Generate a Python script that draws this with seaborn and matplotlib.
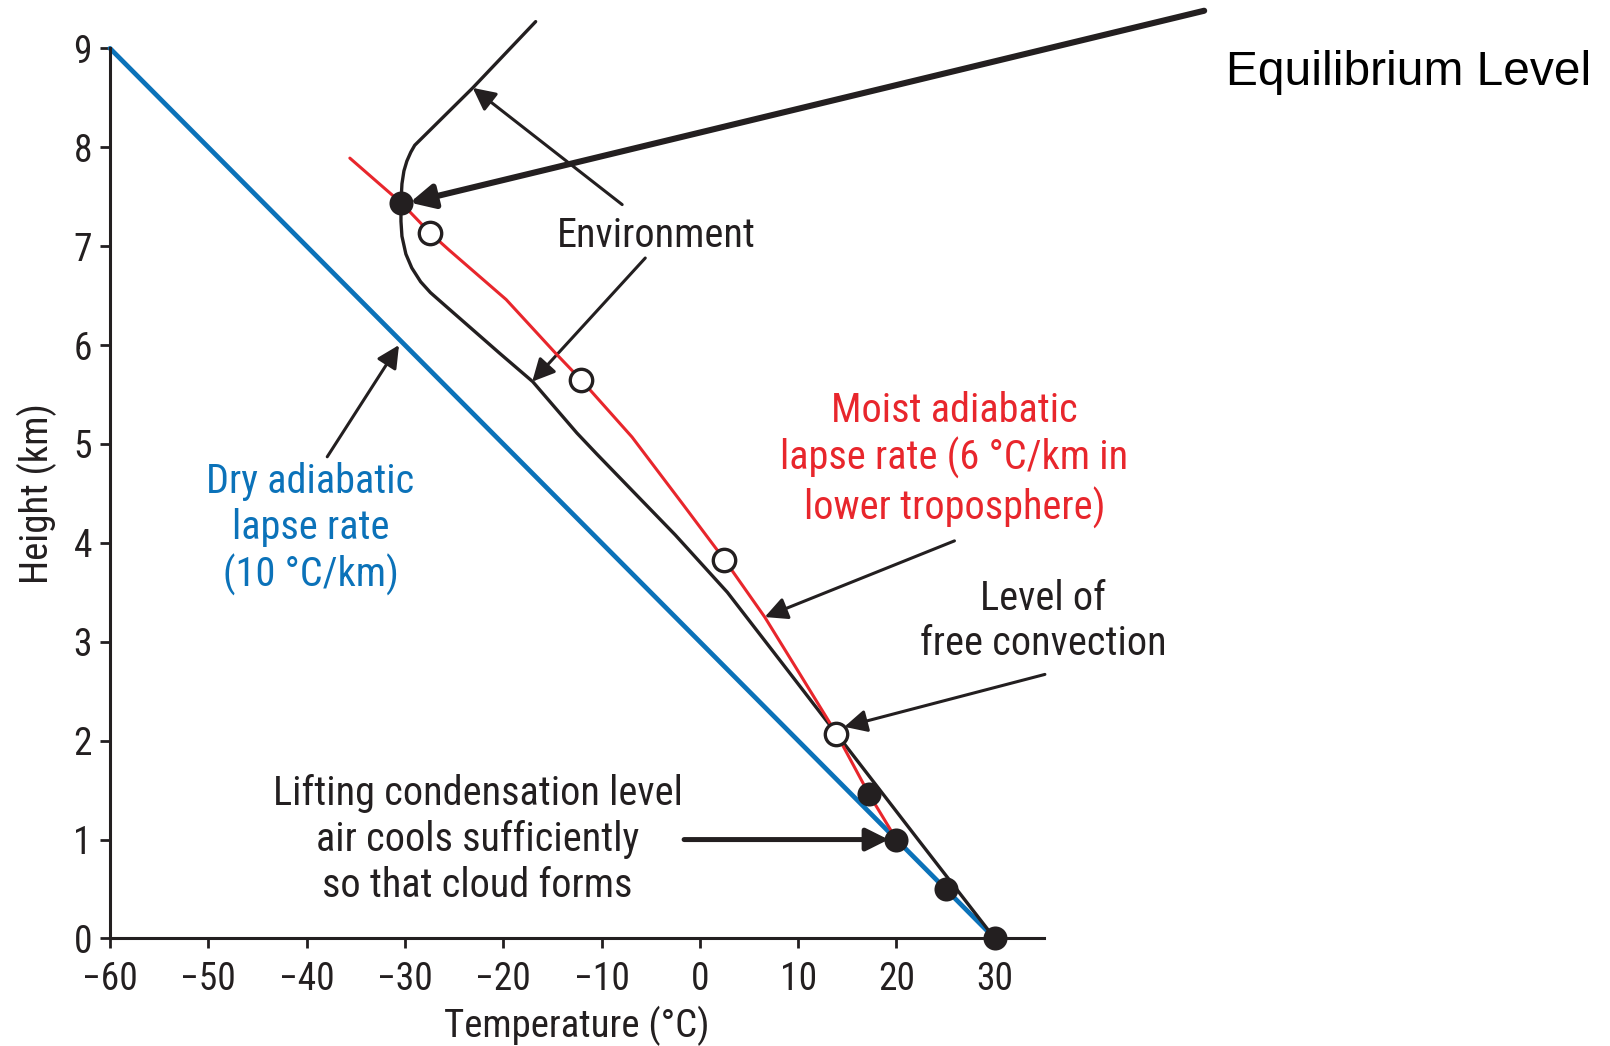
import matplotlib
matplotlib.use("Agg")
import matplotlib.pyplot as plt
from matplotlib import font_manager as fm
import pandas as pd
import seaborn as sns

# Dry adiabat (10 °C/km)
dry_temp = [-60, 30]
dry_height = [9, 0]

# Parcel path: dry to the LCL, then moist adiabat
moist_temp = [20.0, 17.2, 13.9, 10.2, 6.6, 2.5, -1.8, -6.9, -12.1, -14.7, -19.7, -25.5, -27.4, -30.4, -32.6, -35.6]
moist_height = [1.0, 1.46, 2.07, 2.67, 3.25, 3.83, 4.40, 5.07, 5.65, 5.92, 6.46, 6.96, 7.13, 7.44, 7.63, 7.89]

# Environmental temperature profile
env_temp = [30.0, 22.2, 13.9, 8.4, 2.8, -2.5, -6.6, -10.5, -12.5, -17.0, -20.4, -23.5, -25.8,
            -27.4, -28.4, -29.3, -29.9, -30.3, -30.4, -30.4, -30.3, -30.1, -29.8, -29.4, -29.0, -23.1, -16.7]
env_height = [0.0, 1.0, 2.07, 2.78, 3.50, 4.08, 4.50, 4.90, 5.11, 5.63, 5.92, 6.19, 6.39,
              6.53, 6.64, 6.78, 6.92, 7.10, 7.25, 7.44, 7.63, 7.76, 7.86, 7.95, 8.02, 8.6, 9.27]

# Marked parcel positions
filled_temp = [30, 25, 20, 17.2, -30.4]
filled_height = [0, 0.5, 1.0, 1.46, 7.44]
open_temp = [13.9, 2.5, -12.1, -27.4]
open_height = [2.07, 3.83, 5.65, 7.13]

x_ticks = [-60, -50, -40, -30, -20, -10, 0, 10, 20, 30]
y_ticks = list(range(0, 10))

BLUE = "#0b72b9"
RED = "#e8262c"
INK = "#231f20"


def condensed_font():
    entries = fm.fontManager.ttflist
    names = {f.name for f in entries}
    for name in ("Liberation Sans Narrow", "Roboto Condensed", "Open Sans Condensed",
                 "Noto Sans Condensed", "Arial Narrow"):
        if name in names:
            return name, "normal"
    for f in entries:
        if f.name == "DejaVu Sans" and f.stretch in ("condensed", "semi-condensed"):
            return "DejaVu Sans", "condensed"
    for f in entries:
        if "Condensed" in f.name or "Narrow" in f.name:
            return f.name, "normal"
    return None, "normal"


cond_family, cond_stretch = condensed_font()

sns.set_theme(style="ticks")
if cond_family is None:
    plt.rcParams["font.family"] = ["Roboto", "DejaVu Sans"]
    scale = 0.9
else:
    plt.rcParams["font.family"] = [cond_family, "DejaVu Sans"]
    plt.rcParams["font.stretch"] = cond_stretch
    scale = 1.0
plt.rcParams["axes.unicode_minus"] = True

TICK_FS = 27 * scale
LABEL_FS = 28 * scale
NOTE_FS = 29 * scale

fig = plt.figure(figsize=(16.10, 10.46), dpi=100)
ax = fig.add_axes([0.0683, 0.1028, 0.5801, 0.851])

dry = pd.DataFrame({"temp": dry_temp, "height": dry_height})
moist = pd.DataFrame({"temp": moist_temp, "height": moist_height})
env = pd.DataFrame({"temp": env_temp, "height": env_height})
filled = pd.DataFrame({"temp": filled_temp, "height": filled_height})
hollow = pd.DataFrame({"temp": open_temp, "height": open_height})

sns.lineplot(data=dry, x="temp", y="height", sort=False, estimator=None,
             color=BLUE, linewidth=3.4, ax=ax, zorder=2)
sns.lineplot(data=env, x="temp", y="height", sort=False, estimator=None,
             color=INK, linewidth=2.4, ax=ax, zorder=3)
sns.lineplot(data=moist, x="temp", y="height", sort=False, estimator=None,
             color=RED, linewidth=2.2, ax=ax, zorder=4)
sns.scatterplot(data=hollow, x="temp", y="height", s=260, color="white",
                edgecolor=INK, linewidth=2.4, ax=ax, zorder=5)
sns.scatterplot(data=filled, x="temp", y="height", s=300, color=INK,
                edgecolor=INK, linewidth=0, ax=ax, zorder=6)

for artist in ax.lines + ax.collections:
    artist.set_clip_on(False)
for line in ax.lines:
    line.set_solid_joinstyle("round")

ax.set_xlim(-60, 35)
ax.set_ylim(0, 9)
ax.set_xticks(x_ticks)
ax.set_yticks(y_ticks)
sns.despine(ax=ax)
for side in ("left", "bottom"):
    ax.spines[side].set_linewidth(2.2)
    ax.spines[side].set_color(INK)
ax.tick_params(length=7, width=2, color=INK, labelsize=TICK_FS, labelcolor=INK)
ax.tick_params(axis="x", pad=9)
ax.tick_params(axis="y", pad=6)
ax.set_xlabel("Temperature (°C)", fontsize=LABEL_FS, color=INK, labelpad=6)
ax.set_ylabel("Height (km)", fontsize=LABEL_FS, color=INK, labelpad=12)

txt = dict(fontsize=NOTE_FS, color=INK, ha="center", va="center", linespacing=1.22)
arrow = dict(arrowstyle="-|>", color=INK, lw=2.2, mutation_scale=34,
             shrinkA=0, shrinkB=0)

# Environment label with its two pointers
ax.text(-4.45, 7.11, "Environment", **txt)
ax.annotate("", xy=(-23.1, 8.6), xytext=(-7.9, 7.42), arrowprops=arrow)
ax.annotate("", xy=(-17.05, 5.63), xytext=(-5.55, 6.88), arrowprops=arrow)

# Dry adiabatic label
ax.text(-39.6, 4.14, "Dry adiabatic\nlapse rate\n(10 °C/km)", **{**txt, "color": BLUE})
ax.annotate("", xy=(-30.6, 6.0), xytext=(-37.9, 4.87), arrowprops=arrow)

# Moist adiabatic label
ax.text(25.9, 4.84, "Moist adiabatic\nlapse rate (6 °C/km in\nlower troposphere)",
        **{**txt, "color": RED})
ax.annotate("", xy=(6.6, 3.25), xytext=(25.9, 4.02), arrowprops=arrow,
            annotation_clip=False)

# Level of free convection
ax.text(34.9, 3.21, "Level of\nfree convection", **txt, clip_on=False)
ax.annotate("", xy=(14.7, 2.14), xytext=(35.1, 2.67), arrowprops=arrow,
            annotation_clip=False)

# Lifting condensation level
ax.text(-22.6, 1.0, "Lifting condensation level\nair cools sufficiently\nso that cloud forms", **txt)
ax.annotate("", xy=(19.2, 1.0), xytext=(-1.6, 1.0),
            arrowprops={**arrow, "lw": 3.6}, annotation_clip=False)

# Equilibrium level
ax.annotate("", xy=(-29.5, 7.44), xytext=(51.3, 9.38),
            arrowprops={**arrow, "lw": 4.4, "mutation_scale": 36},
            annotation_clip=False)
ax.text(53.5, 8.76, "Equilibrium Level", fontsize=34.5, color="black",
        family=["Liberation Sans", "DejaVu Sans"], fontstretch="normal",
        ha="left", va="center", clip_on=False)

fig.savefig("out.png", dpi=100, facecolor="white")
